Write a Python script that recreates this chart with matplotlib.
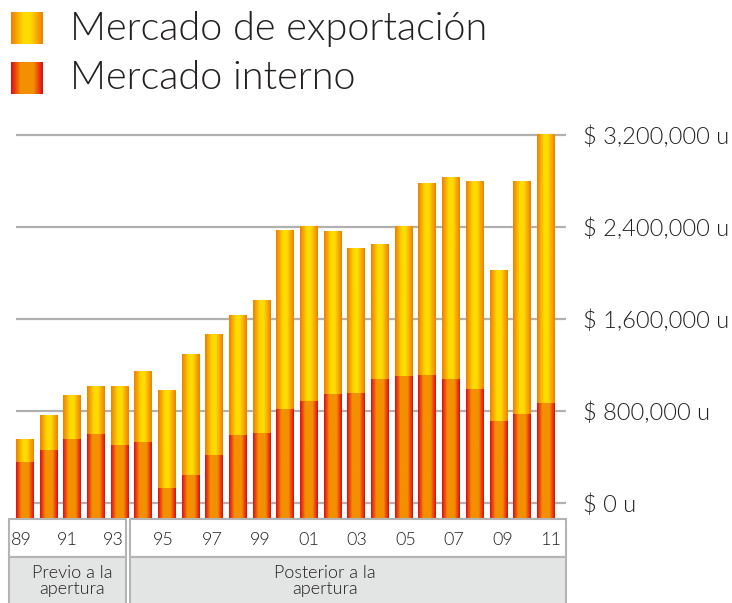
import numpy as np
import matplotlib
matplotlib.use("Agg")
import matplotlib.pyplot as plt
from matplotlib.colors import LinearSegmentedColormap
from matplotlib.patches import Rectangle

# Data (values in u)
years = list(range(1989, 2012))
internal = [359000, 461000, 557000, 600000, 504000, 530000, 130000, 243000,
            417000, 591000, 609000, 817000, 887000, 948000, 957000, 1078000,
            1104000, 1113000, 1078000, 991000, 713000, 774000, 870000]
export = [198000, 296000, 382000, 417000, 505000, 609000, 844000, 1044000,
          1044000, 1035000, 1148000, 1548000, 1513000, 1409000, 1252000, 1165000,
          1296000, 1661000, 1748000, 1800000, 1304000, 2017000, 2330000]
tick_values = [0, 800000, 1600000, 2400000, 3200000]
tick_labels = ["$ 0 u", "$ 800,000 u", "$ 1,600,000 u", "$ 2,400,000 u", "$ 3,200,000 u"]
year_labels_pre = ["89", "91", "93"]
year_labels_post = ["95", "97", "99", "01", "03", "05", "07", "09", "11"]
legend_labels = ["Mercado de exportación", "Mercado interno"]
groups = ["Previo a la\napertura", "Posterior a la\napertura"]

W, H = 732, 603
TXT = "#231f20"

plt.rcParams['font.family'] = ['Lato', 'DejaVu Sans']
plt.rcParams['font.weight'] = 300

# horizontal gradients, edge -> centre -> edge
cmap_export = LinearSegmentedColormap.from_list(
    "exp", [(0, "#ee7f00"), (0.4, "#ffdc00"), (0.6, "#ffdc00"), (1, "#ee7f00")])
cmap_internal = LinearSegmentedColormap.from_list(
    "int", [(0, "#e20a16"), (0.3, "#f39000"), (0.7, "#f39000"), (1, "#e20a16")])
grad = np.linspace(0, 1, 64).reshape(1, -1)


def fx(px):
    return px / W


def fy(py):
    return 1 - py / H


fig = plt.figure(figsize=(W / 100, H / 100), dpi=100)

y_lo, y_hi = -130000, 3243000
ax = fig.add_axes([fx(16), fy(518), fx(566) - fx(16), fy(130) - fy(518)])
x = np.arange(len(years))
xlim = (-0.38, 22.85)

bars_int = ax.bar(x, np.array(internal) - y_lo, bottom=y_lo, width=0.76,
                  color="none", edgecolor="none")
bars_exp = ax.bar(x, export, bottom=internal, width=0.76,
                  color="none", edgecolor="none")

# paint gradients into each bar
for bars, cm in ((bars_int, cmap_internal), (bars_exp, cmap_export)):
    for r in bars:
        x0, y0 = r.get_x(), r.get_y()
        ax.imshow(grad, extent=[x0, x0 + r.get_width(), y0, y0 + r.get_height()],
                  cmap=cm, aspect='auto', origin='lower', interpolation='bilinear',
                  zorder=3)

ax.set_xlim(*xlim)
ax.set_ylim(y_lo, y_hi)
ax.set_aspect('auto')
ax.grid(axis='y', color='#b1b1b1', lw=1.6)
ax.set_axisbelow(True)
for s in ax.spines.values():
    s.set_visible(False)
ax.set_xticks([])
ax.set_yticks(tick_values, tick_labels)
ax.yaxis.tick_right()
ax.tick_params(axis='y', length=0, pad=12, labelsize=17, labelcolor=TXT)

# legend swatches and labels
for i, (lab, cm) in enumerate(zip(legend_labels, (cmap_export, cmap_internal))):
    top = 12 + 50 * i
    sw = fig.add_axes([fx(11), fy(top + 32), fx(32), 32 / H])
    sw.imshow(grad, cmap=cm, aspect='auto', interpolation='bilinear')
    sw.axis('off')
    fig.text(fx(70), fy(40 + 49 * i), lab, fontsize=28.5, color=TXT, va='baseline')

# category table under the bars
border = "#b4b4b4"
for (l, r) in ((8.5, 126.5), (129.5, 566)):
    fig.patches.append(Rectangle((fx(l), fy(557)), fx(r) - fx(l), fy(519) - fy(557),
                                 transform=fig.transFigure, facecolor="white",
                                 edgecolor=border, lw=1.5))
    fig.patches.append(Rectangle((fx(l), fy(610)), fx(r) - fx(l), fy(557) - fy(610),
                                 transform=fig.transFigure, facecolor="#e3e4e4",
                                 edgecolor=border, lw=1.5, clip_on=False))

# year labels, evenly spread inside each box
for labs, (a, b) in ((year_labels_pre, (21.5, 113)), (year_labels_post, (163.5, 551))):
    for px, lab in zip(np.linspace(a, b, len(labs)), labs):
        fig.text(fx(px), fy(540), lab, ha='center', va='center',
                 fontsize=13, color=TXT)

for cx, g in zip((72, 325), groups):
    fig.text(fx(cx), fy(581), g, ha='center', va='center', fontsize=13,
             color=TXT, linespacing=1.0)

fig.savefig("out.png", dpi=100)
